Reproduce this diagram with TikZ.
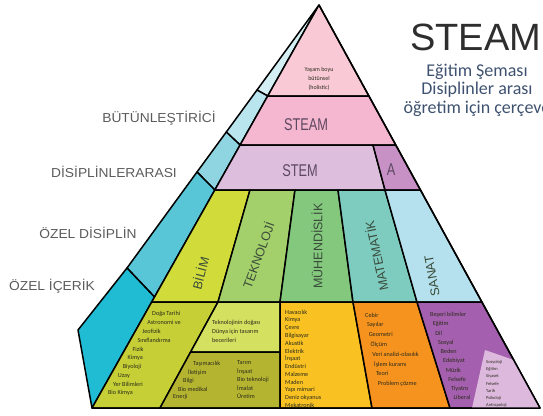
\documentclass[tikz,border=0pt]{standalone}
\usepackage{fontspec}
\setmainfont{Liberation Sans}
\newfontfamily\listfont{Carlito}

\definecolor{side0}{HTML}{D4EFF4}
\definecolor{side1}{HTML}{B9E5EE}
\definecolor{side2}{HTML}{8ED4E1}
\definecolor{side3}{HTML}{58C6D7}
\definecolor{side4}{HTML}{1FBCD4}
\definecolor{toppink}{HTML}{F9CAD6}
\definecolor{steampink}{HTML}{F5B6CF}
\definecolor{stemlilac}{HTML}{DEBEDD}
\definecolor{apurple}{HTML}{C891C6}
\definecolor{bilimcol}{HTML}{D1DC3A}
\definecolor{teknocol}{HTML}{A3D06A}
\definecolor{muhcol}{HTML}{84C87E}
\definecolor{matcol}{HTML}{7ECBC0}
\definecolor{sanatcol}{HTML}{B4E1ED}
\definecolor{bilimlow}{HTML}{C6CF35}
\definecolor{teknoup}{HTML}{D4E05F}
\definecolor{teknolow}{HTML}{B4B431}
\definecolor{muhlow}{HTML}{F9C222}
\definecolor{matlow}{HTML}{F6921E}
\definecolor{sanatlow}{HTML}{A45FAE}
\definecolor{lavender}{HTML}{DDB9DE}
\definecolor{labelgray}{HTML}{5B5B5B}
\definecolor{coltext}{HTML}{3A4B3A}
\definecolor{bandtext}{HTML}{5C4860}
\definecolor{listtext}{HTML}{2C2C1C}
\definecolor{titlegray}{HTML}{2E2E2E}
\definecolor{subblue}{HTML}{3E5270}

\begin{document}
\begin{tikzpicture}[x=1pt,y=-1pt,line join=round]
	\tikzstyle{edge_style} = [draw=black, line width=1.5pt]
	\tikzstyle{side_label} = [font=\fontsize{13}{13}\selectfont, text=labelgray, xscale=1.06, inner sep=0pt]
	\tikzstyle{col_label} = [font=\fontsize{12.5}{13}\selectfont, text=coltext, inner sep=0pt]
	\tikzstyle{band_label} = [font=\fontsize{17}{17}\selectfont, text=bandtext, xscale=0.75, inner sep=0pt]
	\tikzstyle{list_style} = [font=\listfont\fontsize{6.2}{7}\selectfont, text=listtext, anchor=west, inner sep=0pt]
	\tikzstyle{sub_style} = [font=\listfont\fontsize{18}{19}\selectfont, text=subblue, anchor=base, inner sep=0pt]
	\useasboundingbox (0,0) rectangle (543,415);
	%%% main triangle and row levels
	\coordinate (apex) at (319,5);
	\coordinate (bl) at (92,408);
	\coordinate (br) at (540,408);
	\coordinate (l1) at (267.7,96);  \coordinate (r1) at (368.9,96);
	\coordinate (l2) at (240.1,145); \coordinate (r2) at (395.8,145);
	\coordinate (l3) at (214.8,190); \coordinate (r3) at (420.5,190);
	\coordinate (l4) at (151.7,302); \coordinate (r4) at (481.9,302);
	%%% side strip
	\coordinate (o1) at (257,90);
	\coordinate (o2) at (226.3,132);
	\coordinate (o3) at (197,172);
	\coordinate (o4) at (127,268);
	\coordinate (o5) at (78,330);
	\coordinate (i4) at (154.5,297);
	\draw[edge_style, fill=side0] (apex) -- (o1) -- (l1) -- cycle;
	\draw[edge_style, fill=side1] (o1) -- (o2) -- (l2) -- (l1) -- cycle;
	\draw[edge_style, fill=side2] (o2) -- (o3) -- (l3) -- (l2) -- cycle;
	\draw[edge_style, fill=side3] (o3) -- (o4) -- (i4) -- (l3) -- cycle;
	\draw[edge_style, fill=side4] (o4) -- (o5) -- (bl) -- (i4) -- cycle;
	%%% upper bands
	\coordinate (a2) at (373,145);
	\coordinate (a3) at (385,190);
	\draw[edge_style, fill=toppink] (apex) -- (l1) -- (r1) -- cycle;
	\draw[edge_style, fill=steampink] (l1) -- (l2) -- (r2) -- (r1) -- cycle;
	\draw[edge_style, fill=stemlilac] (l2) -- (l3) -- (a3) -- (a2) -- cycle;
	\draw[edge_style, fill=apurple] (a2) -- (a3) -- (r3) -- (r2) -- cycle;
	%%% discipline columns
	\coordinate (t1) at (250,190); \coordinate (m1) at (218,302);
	\coordinate (t2) at (295,190); \coordinate (m2) at (280,302);
	\coordinate (t3) at (338,190); \coordinate (m3) at (353,302);
	\coordinate (t4) at (a3);      \coordinate (m4) at (417,302);
	\draw[edge_style, fill=bilimcol] (l3) -- (t1) -- (m1) -- (l4) -- cycle;
	\draw[edge_style, fill=teknocol] (t1) -- (t2) -- (m2) -- (m1) -- cycle;
	\draw[edge_style, fill=muhcol] (t2) -- (t3) -- (m3) -- (m2) -- cycle;
	\draw[edge_style, fill=matcol] (t3) -- (t4) -- (m4) -- (m3) -- cycle;
	\draw[edge_style, fill=sanatcol] (t4) -- (r3) -- (r4) -- (m4) -- cycle;
	%%% content row
	\coordinate (b1) at (160,408);
	\coordinate (b2) at (280,408);
	\coordinate (b3) at (372,408);
	\coordinate (b4) at (450,408);
	\coordinate (s1) at (190.6,352);
	\coordinate (s2) at (280,352);
	\draw[edge_style, fill=bilimlow] (l4) -- (m1) -- (b1) -- (bl) -- cycle;
	\draw[edge_style, fill=teknoup] (m1) -- (m2) -- (s2) -- (s1) -- cycle;
	\draw[edge_style, fill=teknolow] (s1) -- (s2) -- (b2) -- (b1) -- cycle;
	\draw[edge_style, fill=muhlow] (m2) -- (m3) -- (b3) -- (b2) -- cycle;
	\draw[edge_style, fill=matlow] (m3) -- (m4) -- (b4) -- (b3) -- cycle;
	\draw[edge_style, fill=sanatlow] (m4) -- (r4) -- (br) -- (b4) -- cycle;
	\fill[lavender] (485,350) -- (513.7,360) -- (br) -- (472,408) -- cycle;
	\draw[edge_style] (apex) -- (br) -- (bl);
	%%% labels
	\foreach[count=\i] \txt/\px/\py in {BÜTÜNLEŞTİRİCİ/159/118,DİSİPLİNLERARASI/114/172,ÖZEL DİSİPLİN/88/233,ÖZEL İÇERİK/52/286}{
		\node[side_label] (side-\i) at (\px,\py) {\txt};
	}
	\node[list_style, anchor=center, align=center, font=\listfont\fontsize{6}{9}\selectfont] (holistic) at (319,79) {Yaşam boyu\\bütünsel\\(holistic)};
	\node[band_label] (steam) at (306,125) {STEAM};
	\node[band_label] (stem) at (300,171) {STEM};
	\node[band_label] (art) at (391,170) {A};
	\node[col_label, rotate=75] (bilim) at (200,273) {BİLİM};
	\node[col_label, rotate=70] (tekno) at (258,255) {TEKNOLOJİ};
	\node[col_label, rotate=90] (muh) at (317,246) {MÜHENDİSLİK};
	\node[col_label, rotate=102] (mat) at (376,256) {MATEMATİK};
	\node[col_label, rotate=100] (sanat) at (432,276) {SANAT};
	%%% lists
	\foreach[count=\i] \w in {Doğa Tarihi,Astronomi ve,Jeofizik,Sınıflandırma,Fizik,Kimya,Biyoloji,Uzay,Yer Bilimleri,Bio Kimya}
		\node[list_style] (bil-\i) at ({152-4.9*(\i-1)},{314+8.8*(\i-1)}) {\w};
	\foreach[count=\i] \w in {Teknolojinin doğası,Dünya için tasarım,becerileri}
		\node[list_style] (tek-\i) at (212,{323+8.5*(\i-1)}) {\w};
	\foreach[count=\i] \w in {Taşımacılık,İletişim,Bilgi,Bio medikal,Enerji}
		\node[list_style] (tekl-\i) at ({193-5*(\i-1)},{364+8.3*(\i-1)}) {\w};
	\foreach[count=\i] \w in {Tarım,İnşaat,Bio teknoloji,İmalat,Üretim}
		\node[list_style] (tekr-\i) at (237,{363+8.3*(\i-1)}) {\w};
	\foreach[count=\i] \w in {Havacılık,Kimya,Çevre,Bilgisayar,Akustik,Elektrik,İnşaat,Endüstri,Malzeme,Maden,Yapı mimari,Deniz okyanus,Mekatronik}
		\node[list_style] (muh-\i) at (285,{312+7.8*(\i-1)}) {\w};
	\foreach[count=\i] \w in {Cebir,Sayılar,Geometri,Ölçüm,Veri analizi-olasılık,İşlem kuramı,Teori,Problem çözme}
		\node[list_style] (mat-\i) at ({365+1.8*(\i-1)},{315+9.8*(\i-1)}) {\w};
	\foreach[count=\i] \w in {Beşeri bilimler,Eğitim,Dil,Sosyal,Beden,Edebiyat,Müzik,Felsefe,Tiyatro,Liberal}
		\node[list_style] (san-\i) at ({430+2.6*(\i-1)},{315+9.2*(\i-1)}) {\w};
	\foreach[count=\i] \w in {Sosyoloji,Eğitim,Siyaset,Felsefe,Tarih,Psikoloji,Antropoloji}
		\node[list_style, font=\listfont\fontsize{4.5}{5}\selectfont] (lav-\i) at (486,{362+7.2*(\i-1)}) {\w};
	%%% title
	\node[font=\fontsize{38}{38}\selectfont, text=titlegray, anchor=base west, inner sep=0pt] (title) at (410,50) {STEAM};
	\foreach[count=\i] \w/\py in {Eğitim Şeması/76,Disiplinler arası/94,öğretim için çerçeve/113}
		\node[sub_style] (sub-\i) at (477,\py) {\w};
\end{tikzpicture}
\end{document}
